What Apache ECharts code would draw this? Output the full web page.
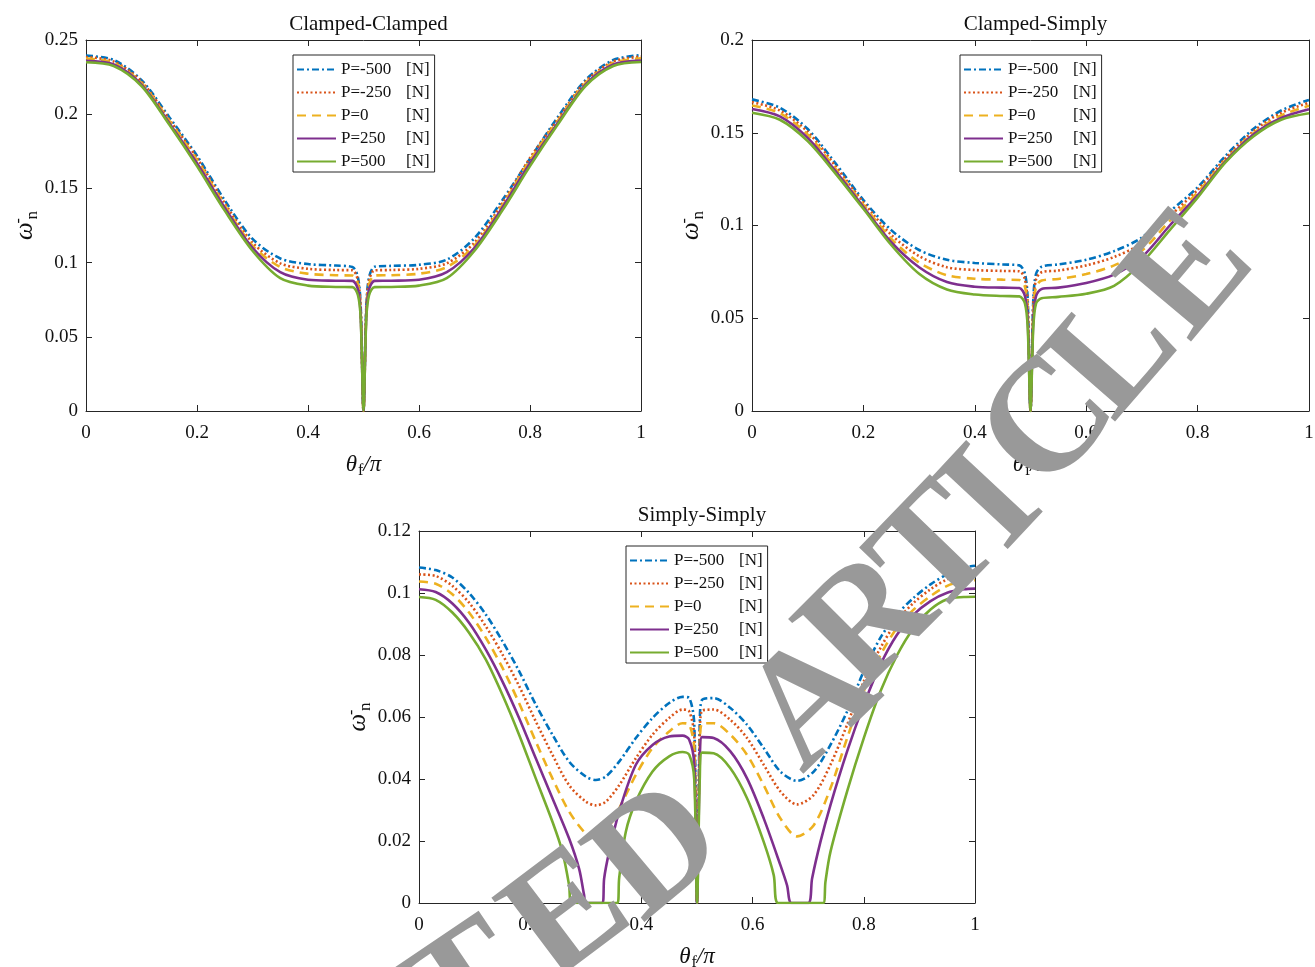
<!DOCTYPE html>
<html>
<head>
<meta charset="utf-8">
<title>Frequency vs fiber angle</title>
<script src="https://cdn.jsdelivr.net/npm/echarts@6/dist/echarts.min.js"></script>
<style>
  html, body { margin: 0; padding: 0; background: #fff; }
  #main { width: 1315px; height: 967px; }
</style>
</head>
<body>
<div id="main"></div>
<script>
// load cases
var loadNames = ['P=-500', 'P=-250', 'P=0', 'P=250', 'P=500'];

// theta_f / pi samples used by the clamped cases
var theta = [0, 0.05, 0.1, 0.15, 0.2, 0.25, 0.3, 0.35, 0.4, 0.45, 0.48, 0.49, 0.495, 0.5,
             0.505, 0.51, 0.52, 0.55, 0.6, 0.65, 0.7, 0.75, 0.8, 0.85, 0.9, 0.95, 1];

// Clamped-Clamped
var ccM500 = [0.2395, 0.2365, 0.223, 0.198, 0.172, 0.142, 0.116, 0.1028, 0.099, 0.098, 0.097, 0.09, 0.07, 0,
              0.07, 0.09, 0.0972, 0.0978, 0.0985, 0.102, 0.1165, 0.142, 0.170, 0.198, 0.223, 0.2365, 0.2398];
var ccM250 = [0.2385, 0.2355, 0.222, 0.1965, 0.1705, 0.140, 0.1135, 0.0995, 0.0958, 0.095, 0.0948, 0.088, 0.068, 0,
              0.068, 0.088, 0.0948, 0.095, 0.0958, 0.0995, 0.1135, 0.140, 0.1705, 0.1965, 0.222, 0.2355, 0.2388];
var ccP0   = [0.2375, 0.2345, 0.221, 0.1955, 0.169, 0.1385, 0.1115, 0.097, 0.0925, 0.0915, 0.0913, 0.085, 0.066, 0,
              0.066, 0.085, 0.0913, 0.0915, 0.0925, 0.097, 0.1115, 0.1385, 0.169, 0.1955, 0.221, 0.2345, 0.2377];
var ccP250 = [0.236, 0.2335, 0.220, 0.194, 0.167, 0.137, 0.110, 0.0935, 0.0885, 0.0878, 0.0877, 0.082, 0.064, 0,
              0.064, 0.082, 0.0877, 0.0878, 0.0885, 0.0935, 0.110, 0.137, 0.167, 0.194, 0.220, 0.2335, 0.2362];
var ccP500 = [0.235, 0.2325, 0.219, 0.193, 0.165, 0.135, 0.108, 0.0895, 0.0845, 0.0836, 0.0835, 0.078, 0.062, 0,
              0.062, 0.078, 0.0835, 0.0836, 0.0845, 0.0895, 0.108, 0.135, 0.165, 0.193, 0.219, 0.2325, 0.2352];

// Clamped-Simply
var csM500 = [0.168, 0.1635, 0.152, 0.1335, 0.1137, 0.0975, 0.0868, 0.0815, 0.0798, 0.079, 0.0785, 0.074, 0.06, 0,
              0.06, 0.074, 0.0778, 0.079, 0.0815, 0.0862, 0.0935, 0.1075, 0.1206, 0.1375, 0.152, 0.162, 0.1677];
var csM250 = [0.1665, 0.162, 0.1505, 0.132, 0.1125, 0.095, 0.0835, 0.0775, 0.076, 0.0755, 0.0753, 0.071, 0.057, 0,
              0.057, 0.071, 0.0748, 0.0757, 0.0785, 0.083, 0.0905, 0.105, 0.1192, 0.1362, 0.1508, 0.1607, 0.1662];
var csP0   = [0.1647, 0.1605, 0.149, 0.1305, 0.1112, 0.0928, 0.080, 0.0732, 0.0713, 0.0708, 0.0706, 0.067, 0.053, 0,
              0.053, 0.067, 0.0703, 0.0712, 0.0738, 0.0785, 0.0865, 0.1025, 0.1178, 0.1352, 0.1497, 0.1593, 0.1645];
var csP250 = [0.1628, 0.1588, 0.1472, 0.1293, 0.110, 0.091, 0.0775, 0.0695, 0.067, 0.0665, 0.0663, 0.062, 0.049, 0,
              0.049, 0.062, 0.0658, 0.0665, 0.069, 0.0735, 0.083, 0.100, 0.1162, 0.1345, 0.149, 0.158, 0.1627];
var csP500 = [0.1608, 0.157, 0.1455, 0.128, 0.109, 0.0895, 0.074, 0.0655, 0.0628, 0.062, 0.0618, 0.058, 0.045, 0,
              0.045, 0.058, 0.0608, 0.0615, 0.0632, 0.0675, 0.080, 0.0975, 0.115, 0.134, 0.148, 0.157, 0.1605];

// Simply-Simply, [theta_f/pi, frequency] pairs (curves touch zero at different angles)
var ssM500 = [[0,0.1082],[0.03,0.1074],[0.06,0.105],[0.09,0.100],[0.12,0.0931],[0.15,0.0845],[0.18,0.0748],[0.21,0.064],
  [0.24,0.0543],[0.27,0.0456],[0.30,0.0408],[0.318,0.0397],[0.336,0.0408],[0.36,0.0456],[0.39,0.0532],[0.42,0.0597],
  [0.45,0.0645],[0.474,0.0665],[0.486,0.0661],[0.495,0.058],[0.5,0],[0.505,0.058],[0.509,0.0655],[0.53,0.0661],
  [0.56,0.0629],[0.59,0.0575],[0.62,0.050],[0.65,0.0424],[0.68,0.0394],[0.71,0.0424],[0.74,0.051],[0.77,0.0618],
  [0.80,0.0748],[0.83,0.0856],[0.86,0.0931],[0.89,0.0985],[0.92,0.1028],[0.95,0.106],[0.98,0.1082],[1,0.1088]];
var ssM250 = [[0,0.106],[0.03,0.1055],[0.06,0.1023],[0.09,0.0969],[0.12,0.0893],[0.15,0.0802],[0.18,0.070],[0.21,0.0586],
  [0.24,0.0478],[0.27,0.038],[0.30,0.0327],[0.318,0.0315],[0.336,0.0327],[0.36,0.038],[0.39,0.0467],[0.42,0.0543],
  [0.45,0.0597],[0.474,0.0624],[0.486,0.0618],[0.495,0.054],[0.5,0],[0.505,0.054],[0.509,0.062],[0.53,0.0624],
  [0.56,0.0591],[0.59,0.0532],[0.62,0.0446],[0.65,0.036],[0.68,0.0318],[0.71,0.0349],[0.74,0.0446],[0.77,0.0575],
  [0.80,0.0715],[0.83,0.0823],[0.86,0.091],[0.89,0.0969],[0.92,0.1012],[0.95,0.1044],[0.98,0.106],[1,0.1064]];
var ssP0 = [[0,0.1037],[0.03,0.103],[0.06,0.0996],[0.09,0.0937],[0.12,0.0856],[0.15,0.0759],[0.18,0.0645],[0.21,0.0521],
  [0.24,0.0402],[0.27,0.0295],[0.30,0.0224],[0.318,0.0212],[0.336,0.023],[0.36,0.0305],[0.39,0.0413],[0.42,0.050],
  [0.45,0.0553],[0.474,0.058],[0.486,0.0575],[0.495,0.05],[0.5,0],[0.505,0.05],[0.509,0.0578],[0.53,0.058],
  [0.56,0.0543],[0.59,0.0478],[0.62,0.038],[0.65,0.0273],[0.68,0.0215],[0.71,0.0251],[0.74,0.037],[0.77,0.0532],
  [0.80,0.0683],[0.83,0.080],[0.86,0.0888],[0.89,0.0947],[0.92,0.099],[0.95,0.1023],[0.98,0.1039],[1,0.1041]];
var ssP250 = [[0,0.1012],[0.03,0.1003],[0.06,0.0966],[0.09,0.0904],[0.12,0.0818],[0.15,0.0715],[0.18,0.0597],[0.21,0.0467],
  [0.24,0.0338],[0.27,0.0208],[0.288,0.011],[0.297,0.0025],[0.30,0],[0.33,0],[0.333,0.0079],[0.342,0.0165],[0.36,0.0295],
  [0.39,0.0446],[0.42,0.051],[0.45,0.0537],[0.474,0.054],[0.486,0.0527],[0.495,0.045],[0.5,0],[0.505,0.045],[0.509,0.0535],
  [0.53,0.0532],[0.56,0.0489],[0.59,0.0402],[0.62,0.0273],[0.65,0.0122],[0.662,0.0057],[0.67,0],[0.70,0],[0.707,0.0079],
  [0.722,0.0197],[0.74,0.0316],[0.77,0.0489],[0.80,0.064],[0.83,0.0769],[0.86,0.0866],[0.89,0.0931],[0.92,0.0974],
  [0.95,0.1001],[0.98,0.1012],[1,0.1014]];
var ssP500 = [[0,0.0987],[0.03,0.0978],[0.06,0.0937],[0.09,0.0872],[0.12,0.0786],[0.15,0.0672],[0.18,0.0543],[0.21,0.0402],
  [0.24,0.0262],[0.258,0.0165],[0.27,0.0057],[0.274,0],[0.357,0],[0.36,0.008],[0.372,0.023],[0.39,0.0327],[0.42,0.0424],
  [0.45,0.0473],[0.474,0.0487],[0.486,0.0478],[0.495,0.04],[0.5,0],[0.505,0.04],[0.509,0.0485],[0.53,0.0483],[0.56,0.0435],
  [0.59,0.0338],[0.62,0.0197],[0.638,0.009],[0.646,0],[0.727,0],[0.731,0.0068],[0.74,0.0165],[0.77,0.036],[0.80,0.0532],
  [0.83,0.0683],[0.86,0.080],[0.89,0.0888],[0.92,0.0947],[0.95,0.098],[0.98,0.0987],[1,0.0988]];

var serif = '"Liberation Serif", "Times New Roman", serif';
var colors = ['#0072BD', '#D95319', '#EDB120', '#7E2F8E', '#77AC30'];
var dashes = [[7, 3, 2, 3], [2, 2.5], [9, 6], 'solid', 'solid'];

var panels = [
    { title: 'Clamped-Clamped', left: 86,  top: 40,  width: 555, height: 371, max: 0.25, step: 0.05,
      curves: [ccM500, ccM250, ccP0, ccP250, ccP500], legend: [293, 55] },
    { title: 'Clamped-Simply',  left: 752, top: 40,  width: 557, height: 371, max: 0.2,  step: 0.05,
      curves: [csM500, csM250, csP0, csP250, csP500], legend: [960, 55] },
    { title: 'Simply-Simply',   left: 419, top: 531, width: 556, height: 372, max: 0.12, step: 0.02,
      curves: [ssM500, ssM250, ssP0, ssP250, ssP500], legend: [626, 546] }
];

function pairs(ys) {
    return theta.map(function (t, i) { return [t, ys[i]]; });
}
function boxLine() {
    return { show: true, onZero: false, lineStyle: { color: '#262626', width: 1 } };
}
// ticks pointing into the plot box
function inTick() {
    return { show: true, inside: true, length: 6, lineStyle: { color: '#262626', width: 1 } };
}

var grids = [], xAxes = [], yAxes = [], titles = [], legends = [], series = [];

panels.forEach(function (p, i) {
    grids.push({ left: p.left, top: p.top, width: p.width, height: p.height, outerBoundsMode: 'none' });
    titles.push({
        text: p.title, left: p.left + p.width / 2, top: p.top - 31, textAlign: 'center',
        textStyle: { fontFamily: serif, fontSize: 21, fontWeight: 'normal', color: '#111' }
    });
    legends.push({
        data: loadNames, orient: 'vertical', left: p.legend[0], top: p.legend[1],
        itemWidth: 39, itemHeight: 14, itemGap: 6, padding: [6, 5, 2, 3],
        borderColor: '#262626', borderWidth: 1, backgroundColor: '#fff',
        itemStyle: { opacity: 0 },
        formatter: function (n) { return '{a|' + n + '}{b|[N]}'; },
        textStyle: {
            fontFamily: serif, fontSize: 17, color: '#111',
            rich: {
                a: { width: 65, fontFamily: serif, fontSize: 17 },
                b: { fontFamily: serif, fontSize: 17 }
            }
        }
    });
    p.curves.forEach(function (c, k) {
        series.push({
            name: loadNames[k], type: 'line', xAxisIndex: i, yAxisIndex: i,
            data: i < 2 ? pairs(c) : c,
            symbol: 'none', smooth: 0.3,
            lineStyle: { color: colors[k], width: 2.6, type: dashes[k] },
            itemStyle: { color: colors[k] }
        });
    });
});

// bottom / left axes carrying labels
panels.forEach(function (p, i) {
    xAxes.push({
        type: 'value', gridIndex: i, min: 0, max: 1, interval: 0.2, position: 'bottom',
        name: '{t|θ}{f|f}{p|/π}', nameLocation: 'middle', nameGap: 40,
        nameTextStyle: {
            fontFamily: serif, fontSize: 22, color: '#111',
            rich: {
                t: { fontFamily: serif, fontStyle: 'italic', fontSize: 23 },
                f: { fontFamily: serif, fontSize: 16, verticalAlign: 'bottom', padding: [12, 0, 0, 1] },
                p: { fontFamily: serif, fontStyle: 'italic', fontSize: 23 }
            }
        },
        axisLine: boxLine(), axisTick: inTick(), splitLine: { show: false },
        axisLabel: { fontFamily: serif, fontSize: 19, color: '#111', margin: 13 }
    });
    yAxes.push({
        type: 'value', gridIndex: i, min: 0, max: p.max, interval: p.step, position: 'left',
        name: '{w|ω}{b|-}{n|n}', nameLocation: 'middle', nameGap: 44, nameRotate: 90,
        nameTextStyle: {
            fontFamily: serif, fontSize: 22, color: '#111',
            rich: {
                w: { fontFamily: serif, fontStyle: 'italic', fontSize: 25 },
                b: { fontFamily: serif, fontSize: 16, width: 1, verticalAlign: 'top', padding: [0, 0, 14, 1] },
                n: { fontFamily: serif, fontSize: 17, verticalAlign: 'bottom', padding: [12, 0, 0, 1] }
            }
        },
        axisLine: boxLine(), axisTick: inTick(), splitLine: { show: false },
        axisLabel: { fontFamily: serif, fontSize: 19, color: '#111', margin: 8 }
    });
});
// top / right axes closing the box
panels.forEach(function (p, i) {
    xAxes.push({
        type: 'value', gridIndex: i, min: 0, max: 1, interval: 0.2, position: 'top',
        axisLine: boxLine(), axisTick: inTick(), axisLabel: { show: false }, splitLine: { show: false }
    });
    yAxes.push({
        type: 'value', gridIndex: i, min: 0, max: p.max, interval: p.step, position: 'right',
        axisLine: boxLine(), axisTick: inTick(), axisLabel: { show: false }, splitLine: { show: false }
    });
});

// retraction stamp laid over the figure
var stamp = [['T', 472, 992, 34], ['E', 570, 918, 37], ['D', 660, 855, 40], ['A', 815, 705, 44], ['R', 872, 625, 45],
             ['T', 940, 555, 46], ['I', 995, 502, 47], ['C', 1052, 426, 48], ['L', 1117, 356, 49], ['E', 1192, 276, 50]];
var graphics = stamp.map(function (s) {
    return {
        type: 'text', x: s[1], y: s[2], rotation: s[3] * Math.PI / 180, z: 100,
        style: { text: s[0], font: 'bold 160px ' + serif, fill: '#999999', align: 'center', verticalAlign: 'middle' }
    };
});

var chart = echarts.init(document.getElementById('main'));
chart.setOption({
    animation: false,
    backgroundColor: '#fff',
    title: titles,
    legend: legends,
    grid: grids,
    xAxis: xAxes,
    yAxis: yAxes,
    series: series,
    graphic: graphics
});
</script>
</body>
</html>
